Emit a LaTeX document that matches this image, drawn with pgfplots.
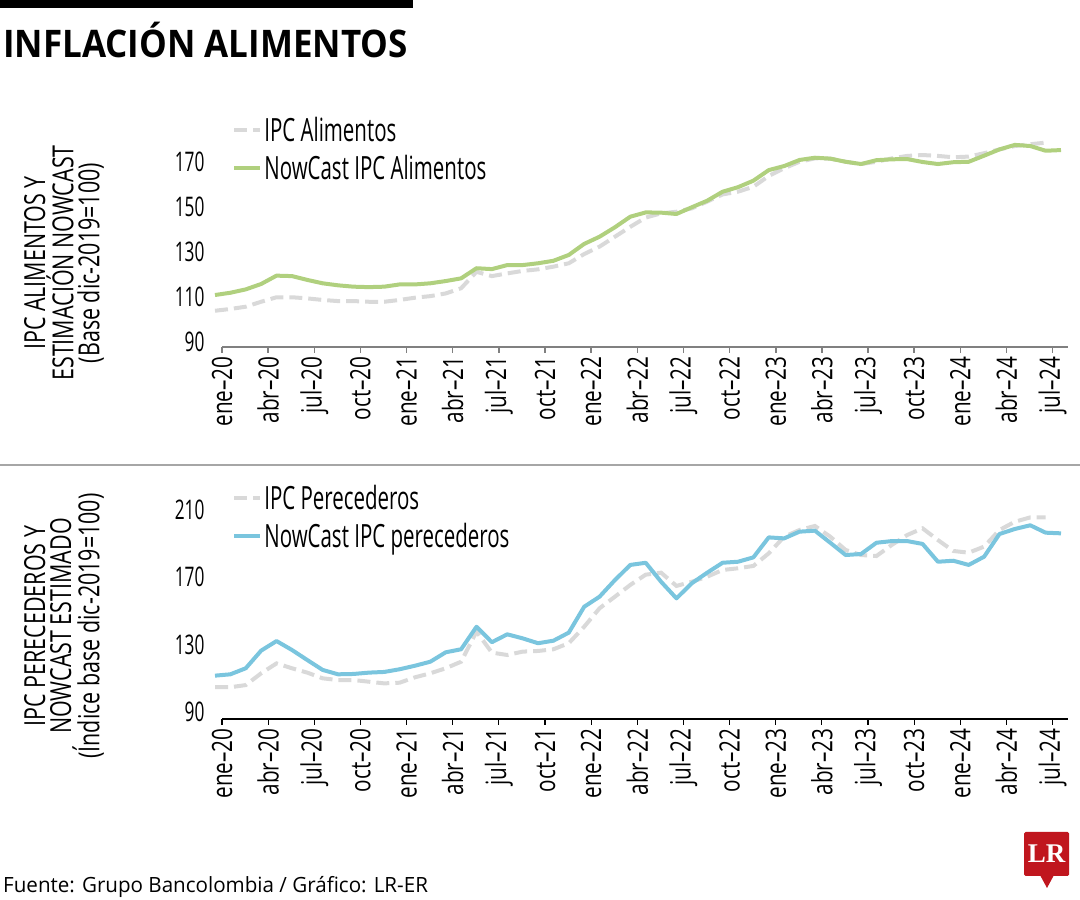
\documentclass[border=0pt]{standalone}
\usepackage{pgfplots}
\pgfplotsset{compat=1.18}
\usepackage{pgfplotstable}
\usepackage{fontspec}
\setmainfont{Open Sans}
\newfontfamily\cond[FakeStretch=0.64]{Open Sans}
\newfontfamily\condx[FakeStretch=0.74]{Open Sans}
\newfontfamily\condt[FakeStretch=0.74]{Open Sans}
\newfontfamily\titlefont[FakeStretch=0.92]{Open Sans}
\newfontfamily\footfont[FakeStretch=0.98]{Open Sans}
\newfontfamily\lrfont{Liberation Serif}
\definecolor{lrgreen}{RGB}{176,208,126}
\definecolor{lrblue}{RGB}{122,197,222}
\definecolor{lrgray}{RGB}{217,217,217}
\definecolor{lrred}{RGB}{192,22,30}
\definecolor{axgray}{RGB}{128,128,128}

\pgfplotstableread{
i ipc now
0 103.9 110.9
1 104.7 111.9
2 105.7 113.4
3 107.9 115.8
4 109.9 119.5
5 109.9 119.3
6 109.4 117.6
7 108.7 116.1
8 108.2 115.2
9 108.2 114.6
10 107.9 114.4
11 107.9 114.6
12 108.7 115.6
13 109.7 115.6
14 110.4 116.1
15 111.6 117.1
16 113.9 118.3
17 121.2 122.8
18 119.3 122.4
19 120.5 124.2
20 121.6 124.2
21 122.3 125.0
22 123.5 126.1
23 125.0 128.7
24 129.1 133.6
25 132.4 136.8
26 136.8 141.0
27 141.2 145.7
28 145.3 147.6
29 147.2 147.5
30 147.9 146.9
31 149.4 149.9
32 152.4 152.8
33 155.6 156.8
34 156.8 158.8
35 159.0 161.7
36 163.8 166.4
37 167.2 168.2
38 170.1 170.9
39 171.6 171.9
40 171.5 171.5
41 170.1 170.1
42 169.1 169.1
43 170.1 170.8
44 171.6 171.2
45 172.7 171.3
46 173.1 170.0
47 172.7 169.1
48 172.1 169.9
49 172.4 170.1
50 173.9 172.8
51 175.6 175.6
52 177.1 177.6
53 177.9 177.1
54 178.6 175.0
55 nan 175.3
}\topdata

\pgfplotstableread{
i ipc now
0 104.5 111.4
1 104.5 112.2
2 105.8 115.8
3 112.8 126.3
4 118.7 132.0
5 115.8 126.7
6 113.2 120.7
7 109.8 114.8
8 108.8 112.2
9 108.8 112.4
10 107.8 113.2
11 106.8 113.6
12 107.2 115.2
13 110.4 117.3
14 112.8 119.7
15 115.8 125.3
16 119.7 127.1
17 137.6 140.5
18 125.1 131.3
19 123.7 136.0
20 125.7 133.6
21 126.1 130.7
22 127.1 132.2
23 130.7 137.0
24 140.5 152.4
25 151.5 158.4
26 158.4 168.3
27 165.4 177.3
28 171.5 178.6
29 172.7 167.3
30 164.8 157.4
31 167.3 166.4
32 170.3 172.7
33 174.3 178.6
34 175.3 179.2
35 176.7 181.8
36 184.2 193.7
37 194.1 193.1
38 198.1 197.1
39 200.5 197.7
40 194.1 190.5
41 186.2 183.2
42 183.2 183.8
43 182.6 190.5
44 189.2 191.5
45 195.1 191.5
46 199.1 189.8
47 192.1 179.2
48 185.6 179.8
49 184.6 177.3
50 188.2 182.2
51 198.1 195.7
52 203.0 198.7
53 205.6 200.9
54 205.6 196.5
55 nan 196.1
}\botdata

\pgfplotsset{
  lrbase/.style={
    scale only axis, width=846pt,
    xmin=0.455, xmax=55.455,
    clip=false,
    axis x line*=bottom, axis y line*=left,
    y axis line style={draw=none},
    xtick={0.455,3.455,...,54.5},
    xticklabels={ene–20,abr–20,jul–20,oct–20,ene–21,abr–21,jul–21,oct–21,ene–22,abr–22,jul–22,oct–22,ene–23,abr–23,jul–23,oct–23,ene–24,abr–24,jul–24},
    xtick align=outside,
    major tick length=6pt,
    y tick style={draw=none},
    /pgf/number format/assume math mode=true,
    yticklabel style={font=\cond\fontsize{27}{27}\selectfont, text=black, anchor=east, xshift=-14pt},
    xticklabel style={font=\condx\fontsize{28}{28}\selectfont, text=black, rotate=90, anchor=east},
    legend cell align=left,
    legend image code/.code={\draw[#1] (0pt,0pt) -- (26pt,0pt);},
    legend style={draw=none, fill=none, anchor=north west,
      font=\cond\fontsize{32}{32}\selectfont, row sep=8pt,
      inner xsep=0pt, inner ysep=0pt},
  },
  dashgray/.style={lrgray, line width=4pt, dash pattern=on 13pt off 6pt},
}

\begin{document}
\begin{tikzpicture}
\useasboundingbox (0,0) rectangle (1080pt,900pt);
% top bar and title
\fill[black] (0pt,892pt) rectangle (413pt,900pt);
\node[anchor=base west, inner sep=0pt, font=\titlefont\bfseries\fontsize{38}{38}\selectfont] at (3pt,842pt) {INFLACIÓN ALIMENTOS};

% separator
\draw[gray!70, line width=1.5pt] (0pt,435pt) -- (1080pt,435pt);

% axis titles
\node[rotate=90, align=center, inner sep=0pt, font=\condt\fontsize{29}{26}\selectfont] at (64pt,637pt) {IPC ALIMENTOS Y\\ESTIMACIÓN NOWCAST\\(Base dic-2019=100)};
\node[rotate=90, align=center, inner sep=0pt, font=\condt\fontsize{29}{26}\selectfont] at (64pt,274pt) {IPC PERECEDEROS Y\\NOWCAST ESTIMADO\\(Índice base dic-2019=100)};

% top chart
\begin{axis}[lrbase,
  at={(222pt,553pt)}, anchor=south west,
  height=218.75pt, ymin=87.8, ymax=185,
  ytick={90,110,130,150,170},
  x axis line style={draw=axgray, line width=2pt},
  x tick style={draw=axgray, line width=1.5pt},
  legend style={at={(0.012,1.060)}},
]
\addplot[dashgray] table[x=i,y=ipc]{\topdata};
\addlegendentry{IPC Alimentos}
\addplot[lrgreen, line width=4pt, line join=round] table[x=i,y=now]{\topdata};
\addlegendentry{NowCast IPC Alimentos}
\end{axis}

% bottom chart
\begin{axis}[lrbase,
  at={(222pt,181pt)}, anchor=south west,
  height=242.6pt, ymin=85.6, ymax=230,
  ytick={90,130,170,210},
  x axis line style={draw=black, line width=1.5pt},
  x tick style={draw=black, line width=1.2pt},
  legend style={at={(0.012,0.973)}},
]
\addplot[dashgray] table[x=i,y=ipc]{\botdata};
\addlegendentry{IPC Perecederos}
\addplot[lrblue, line width=4pt, line join=round] table[x=i,y=now]{\botdata};
\addlegendentry{NowCast IPC perecederos}
\end{axis}

% footer
\node[anchor=base west, inner sep=0pt, font=\footfont\fontsize{21}{21}\selectfont] at (3pt,7pt) {Fuente: Grupo Bancolombia / Gráfico: LR-ER};

% LR logo
\fill[lrred, rounded corners=1.5pt] (1024pt,24pt) rectangle (1069pt,68pt);
\fill[lrred] (1040pt,25pt) -- (1047pt,12pt) -- (1054pt,25pt) -- cycle;
\node[text=white, font=\lrfont\bfseries\fontsize{27}{27}\selectfont] at (1046.5pt,46pt) {LR};
\end{tikzpicture}
\end{document}
